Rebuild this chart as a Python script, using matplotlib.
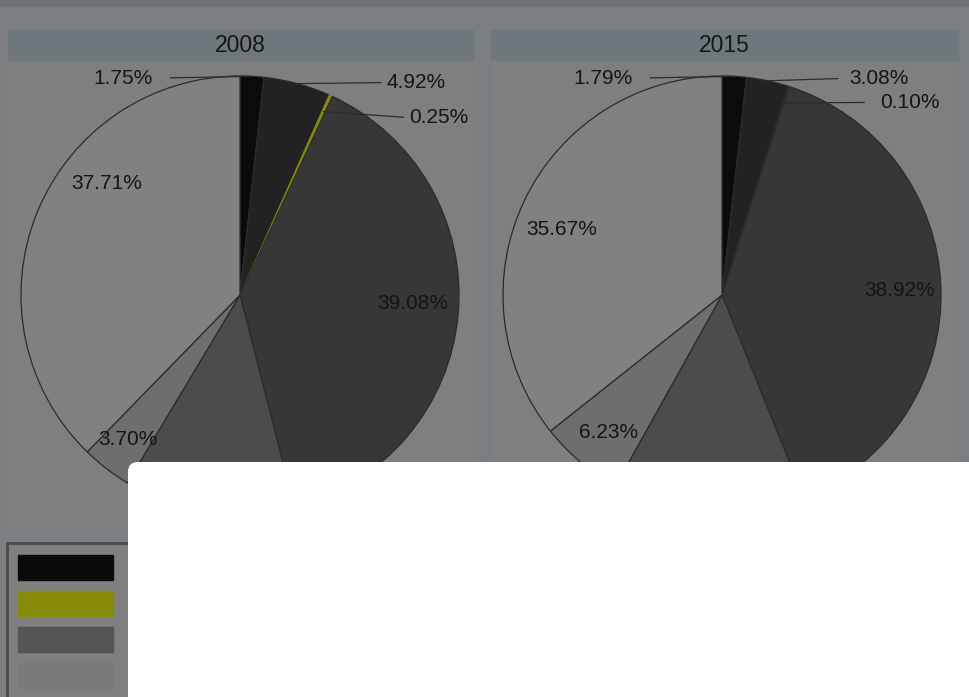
import numpy as np
import matplotlib
matplotlib.use('Agg')
import matplotlib.pyplot as plt
from matplotlib.patches import Rectangle, FancyBboxPatch

plt.rcParams['font.family'] = ['Liberation Sans', 'DejaVu Sans']

# Shares per year, clockwise from 12 o'clock
years = ['2008', '2015']
shares_2008 = [1.75, 4.92, 0.25, 39.08, 12.59, 3.70, 37.71]
shares_2015 = [1.79, 3.08, 0.10, 38.92, 14.21, 6.23, 35.67]
labels_2008 = ['1.75%', '4.92%', '0.25%', '39.08%', '', '3.70%', '37.71%']
labels_2015 = ['1.79%', '3.08%', '0.10%', '38.92%', '', '6.23%', '35.67%']
slice_colors = ['#0b0b0b', '#222222', '#8a8a0c', '#373737', '#4c4c4c', '#6e6e6e', '#818181']
legend_colors = ['#0a0a0a', '#888a0a', '#555555', '#7a7a7a']

W, H = 970, 697
fig = plt.figure(figsize=(W/100, H/100), dpi=100)
fig.patch.set_facecolor('#7a7e81')

# page background: panels, title bars, legend box
page = fig.add_axes([0, 0, 1, 1], zorder=0)
page.set_xlim(0, W)
page.set_ylim(H, 0)
page.axis('off')
page.add_patch(Rectangle((0, 0), W, 6, color='#6f7174'))
panels = [(8, 473), (491, 958)]
for (x0, x1), yr in zip(panels, years):
    page.add_patch(Rectangle((x0, 30), x1-x0, 31, color='#6e777c'))
    page.add_patch(Rectangle((x0, 61), x1-x0, 466, color='#7f7f7f'))
    page.text((x0+x1)/2, 45, yr, ha='center', va='center', fontsize=16.5, color='#161616')

page.add_patch(Rectangle((7, 543), 400, 200, facecolor='#7f7f7f', edgecolor='#4a4a4a', linewidth=2))
for i, c in enumerate(legend_colors):
    page.add_patch(Rectangle((18, 555 + i*36), 95, 25, color=c))

# label placement in pie units (centre = 0, radius = 1)
# (x, y, ha, leader gap in points or None for labels inside the slice)
layout_2008 = [(-0.40, 0.99, 'right', 11), (0.67, 0.97, 'left', 2), (0.77, 0.81, 'left', 1.5),
               (0.79, -0.04, 'center', None), None, (-0.51, -0.66, 'center', None),
               (-0.61, 0.51, 'center', None)]
layout_2015 = [(-0.41, 0.99, 'right', 11), (0.58, 0.99, 'left', 6), (0.72, 0.88, 'left', 9),
               (0.81, 0.02, 'center', None), None, (-0.52, -0.63, 'center', None),
               (-0.73, 0.30, 'center', None)]
leader_r = [1.0, 1.0, 0.92]

pies = [(240, 295, shares_2008, labels_2008, layout_2008, True),
        (722, 295, shares_2015, labels_2015, layout_2015, False)]
r = 219
for cx, cy, vals, labs, lay, yellow_edge in pies:
    ax = fig.add_axes([(cx-r)/W, (H-cy-r)/H, 2*r/W, 2*r/H], zorder=1)
    wedges, _ = ax.pie(vals, colors=slice_colors, startangle=90, counterclock=False, radius=1,
                       wedgeprops=dict(edgecolor='#2b2b2b', linewidth=0.9))
    if yellow_edge:
        wedges[2].set_edgecolor(slice_colors[2])
        wedges[2].set_linewidth(0.5)
    ax.set_xlim(-1, 1)
    ax.set_ylim(-1, 1)
    ax.axis('off')
    for i, (w, lab, pos) in enumerate(zip(wedges, labs, lay)):
        if pos is None:
            continue
        tx, ty, ha, gap = pos
        if gap is None:
            ax.text(tx, ty, lab, ha=ha, va='center', fontsize=15, color='#141414')
        else:
            mid = np.deg2rad((w.theta1 + w.theta2) / 2)
            ex, ey = leader_r[i] * np.cos(mid), leader_r[i] * np.sin(mid)
            ax.annotate(lab, xy=(ex, ey), xytext=(tx, ty), ha=ha, va='center',
                        fontsize=15, color='#141414', annotation_clip=False,
                        arrowprops=dict(arrowstyle='-', color='#2b2b2b', lw=0.9,
                                        shrinkA=gap, shrinkB=0,
                                        relpos=(1, 0.5) if ha == 'right' else (0, 0.5)))

# white box drawn over the lower part of the page
over = fig.add_axes([0, 0, 1, 1], zorder=10)
over.set_xlim(0, W)
over.set_ylim(H, 0)
over.axis('off')
over.patch.set_alpha(0)
over.add_patch(FancyBboxPatch((128, 462), 900, 300, boxstyle='round,pad=0,rounding_size=10',
                              facecolor='white', edgecolor='none'))

fig.savefig('out.png', dpi=100, facecolor=fig.get_facecolor())
